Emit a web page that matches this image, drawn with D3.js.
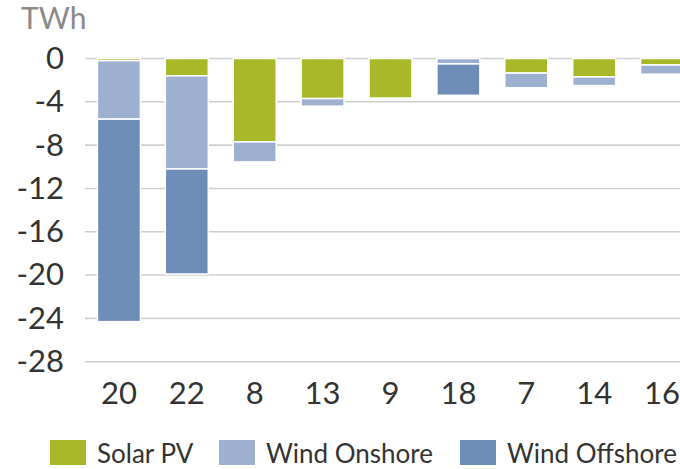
<!DOCTYPE html>
<html><head><meta charset="utf-8">
<script src="https://cdn.jsdelivr.net/npm/d3@7"></script>
<style>body{margin:0;background:#fff;overflow:hidden}svg{display:block;font-family:Lato,sans-serif}</style>
</head><body><svg id="c" width="680" height="469"></svg>
<script>
const categories = ["20","22","8","13","9","18","7","14","16"];
const solarPV = [0.2, 1.6, 7.7, 3.7, 3.65, 0, 1.35, 1.7, 0.6];
const windOnshore = [5.4, 8.6, 1.85, 0.7, 0, 0.5, 1.35, 0.8, 0.85];
const windOffshore = [18.7, 9.7, 0, 0, 0, 2.9, 0, 0, 0];
const seriesNames = ["Solar PV","Wind Onshore","Wind Offshore"];
const colors = ["#a8b829","#9db0cf","#6d8cb8"];
const yTicks = [0,-4,-8,-12,-16,-20,-24,-28];

const svg = d3.select("#c");
const x = d3.scaleBand().domain(categories).range([85, 696]).paddingInner(0.367).paddingOuter(0.183);
const y = d3.scaleLinear().domain([-28, 0]).range([361.7, 58.5]);

// gridlines
svg.append("g").selectAll("line").data(yTicks).join("line")
  .attr("x1", 85).attr("x2", 696)
  .attr("y1", d => y(d)).attr("y2", d => y(d))
  .attr("stroke", "#cfcfcf").attr("stroke-width", 1.6);

// y axis labels
const yAxis = d3.axisLeft(y).tickValues(yTicks).tickSize(0).tickPadding(0).tickFormat(d => d === 0 ? "0" : "-" + Math.abs(d));
const ya = svg.append("g").attr("transform", "translate(64,0)").call(yAxis);
ya.select(".domain").remove();
ya.selectAll("text").attr("font-size", 31).attr("fill", "#333").attr("font-family", "Lato");

// stacked bars (negative)
const rows = categories.map((c, i) => ({cat: c, s: [solarPV[i], windOnshore[i], windOffshore[i]]}));
const rects = [];
rows.forEach(r => {
  let acc = 0;
  r.s.forEach((v, k) => {
    if (v > 0) { rects.push({cat: r.cat, k, y0: -acc, y1: -(acc + v)}); }
    acc += v;
  });
});
svg.append("g").selectAll("rect").data(rects).join("rect")
  .attr("x", d => x(d.cat)).attr("width", x.bandwidth())
  .attr("y", d => y(d.y0)).attr("height", d => y(d.y1) - y(d.y0))
  .attr("fill", d => colors[d.k]).attr("stroke", "#fff").attr("stroke-width", 1.5);

// x axis labels
const xAxis = d3.axisBottom(x).tickSize(0).tickPadding(0);
const xa = svg.append("g").attr("transform", "translate(0,382)").call(xAxis);
xa.select(".domain").remove();
xa.selectAll("text").attr("font-size", 31).attr("fill", "#333").attr("font-family", "Lato").attr("dy", "0.71em");

// title
svg.append("text").attr("x", 21).attr("y", 29).attr("font-size", 30).attr("fill", "#8a8a8a").text("TWh");

// legend
const legX = [50, 219, 460];
const leg = svg.append("g").selectAll("g").data(seriesNames).join("g")
  .attr("transform", (d, i) => `translate(${legX[i]},440)`);
leg.append("rect").attr("width", 36).attr("height", 25).attr("fill", (d, i) => colors[i]);
leg.append("text").attr("x", 47).attr("y", 23).attr("font-size", 26).attr("fill", "#333").text(d => d);
</script></body></html>
